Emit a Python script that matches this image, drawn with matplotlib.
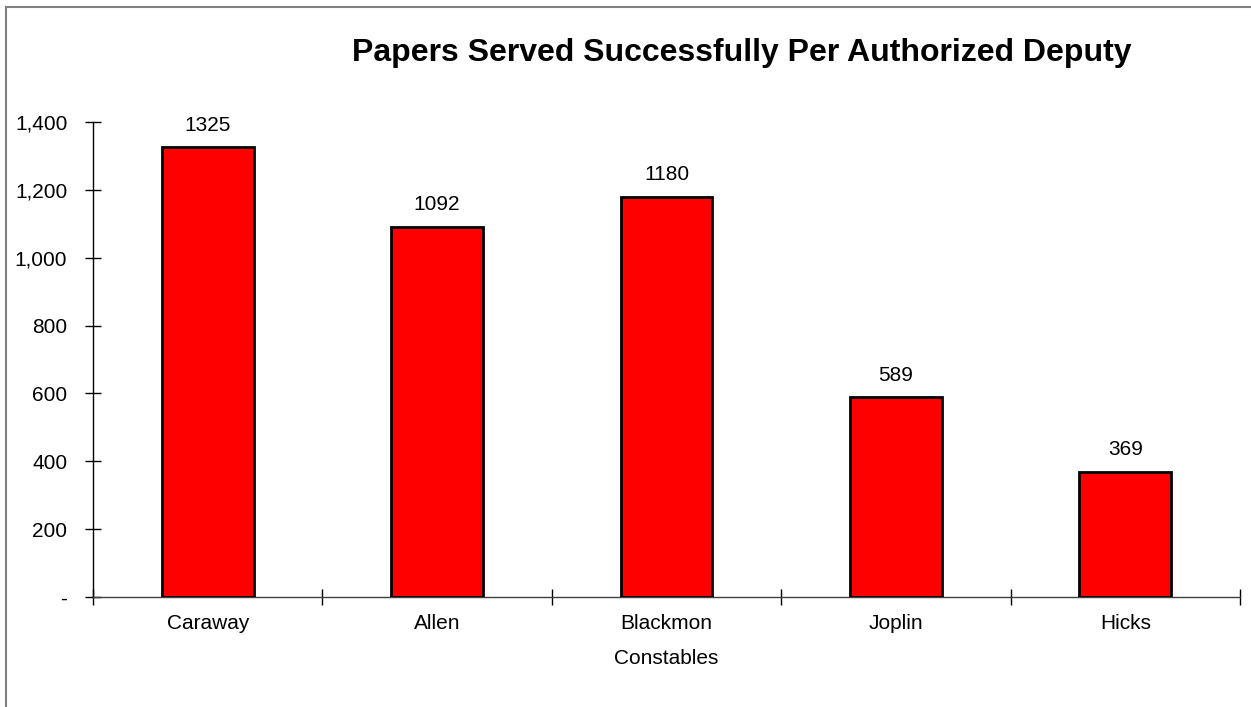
import matplotlib
matplotlib.use("Agg")
import matplotlib.pyplot as plt
from matplotlib.lines import Line2D
from matplotlib.ticker import FuncFormatter, FixedLocator

categories = ["Caraway", "Allen", "Blackmon", "Joplin", "Hicks"]
values = [1325, 1092, 1180, 589, 369]
yticks = [0, 200, 400, 600, 800, 1000, 1200, 1400]

plt.rcParams['font.family'] = ['Liberation Sans', 'DejaVu Sans']

fig = plt.figure(figsize=(12.51, 7.07), dpi=100)
ax = fig.add_axes([93/1251, 1-597/707, (1240-93)/1251, (597-122)/707])

x = list(range(len(categories)))
bars = ax.bar(x, values, width=0.4, color='#ff0000', edgecolor='black', linewidth=2, zorder=3)
for xi, v in zip(x, values):
    ax.annotate(str(v), (xi, v), xytext=(0, 9), textcoords='offset points',
                ha='center', va='bottom', fontsize=15)

ax.set_xlim(-0.5, len(categories) - 0.5)
ax.set_ylim(0, 1400)
ax.set_yticks(yticks)
ax.yaxis.set_major_formatter(FuncFormatter(lambda v, p: '-' if v == 0 else f'{int(v):,}'))
ax.set_xticks(x)
ax.set_xticklabels(categories, fontsize=15)
ax.tick_params(axis='x', length=0, pad=12)
ax.xaxis.set_minor_locator(FixedLocator([i - 0.5 for i in range(len(categories) + 1)]))
ax.tick_params(axis='x', which='minor', direction='inout', length=11, width=1)
ax.tick_params(axis='y', direction='inout', length=11, width=1, labelsize=15, pad=13)
for s in ['top', 'right']:
    ax.spines[s].set_visible(False)
ax.spines['left'].set_linewidth(1)
ax.spines['bottom'].set_linewidth(1)
ax.spines['bottom'].set_color('#404040')
ax.set_xlabel('Constables', fontsize=15, labelpad=12)

fig.text(742/1251, 1-53/707, 'Papers Served Successfully Per Authorized Deputy',
         ha='center', va='center', fontsize=23, fontweight='bold')

fig.add_artist(Line2D([6/1251, 6/1251], [0, 1-7/707], transform=fig.transFigure, color='#808080', lw=1.5))
fig.add_artist(Line2D([6/1251, 1], [1-7/707, 1-7/707], transform=fig.transFigure, color='#808080', lw=1.5))

fig.savefig('out.png', dpi=100)
